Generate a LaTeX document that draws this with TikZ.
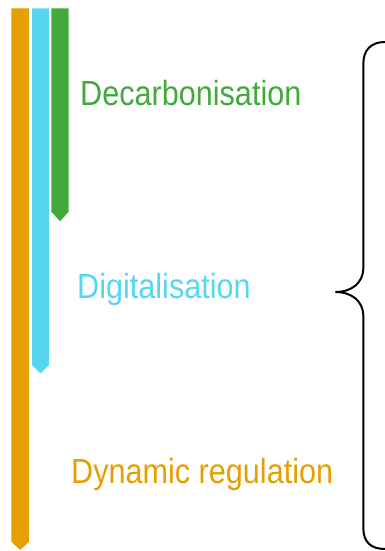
\documentclass[tikz,border=0pt]{standalone}
\usepackage{fontspec}
\newfontfamily\labelfont[FakeStretch=0.877]{Liberation Sans}
\definecolor{carbongreen}{HTML}{42A93A}
\definecolor{digicyan}{HTML}{57D6F2}
\definecolor{dynorange}{HTML}{E69F00}
\tikzset{
  bar/.style={draw=white, line width=0.6pt, fill=#1},
  label/.style={anchor=base west, inner sep=0pt, text=#1,
    font=\labelfont\fontsize{34.9}{40}\selectfont},
  brace/.style={draw=black, line width=2pt, line cap=round, line join=round}
}
\begin{document}
\begin{tikzpicture}[x=1pt, y=-1pt]
  \useasboundingbox (0,0) rectangle (385,551);
  % timeline bars, each ending in a downward point
  \path[bar=dynorange] (11,8) -- (29.5,8) -- (29.5,542) -- (20.25,550.5) -- (11,542) -- cycle;
  \path[bar=digicyan] (31.5,8) -- (49.5,8) -- (49.5,365) -- (40.5,374) -- (31.5,365) -- cycle;
  \path[bar=carbongreen] (51,8) -- (69,8) -- (69,212) -- (60,222) -- (51,212) -- cycle;
  % labels
  \node[label=carbongreen] (decarb) at (80,105) {Decarbonisation};
  \node[label=digicyan] (digit) at (77,298) {Digitalisation};
  \node[label=dynorange] (dynreg) at (71,483) {Dynamic regulation};
  % curly brace grouping the three
  \coordinate (btop) at (388,42);
  \coordinate (btip) at (336,292);
  \coordinate (bbot) at (388,549);
  \draw[brace] (btop) -- (385,42) .. controls (371,42) and (363.3,50) .. (363.3,64)
    -- (363.3,268) .. controls (363.3,284) and (350,292) .. (btip)
    .. controls (350,292) and (363.3,300) .. (363.3,316)
    -- (363.3,528) .. controls (363.3,542) and (371,549) .. (385,549) -- (bbot);
\end{tikzpicture}
\end{document}
